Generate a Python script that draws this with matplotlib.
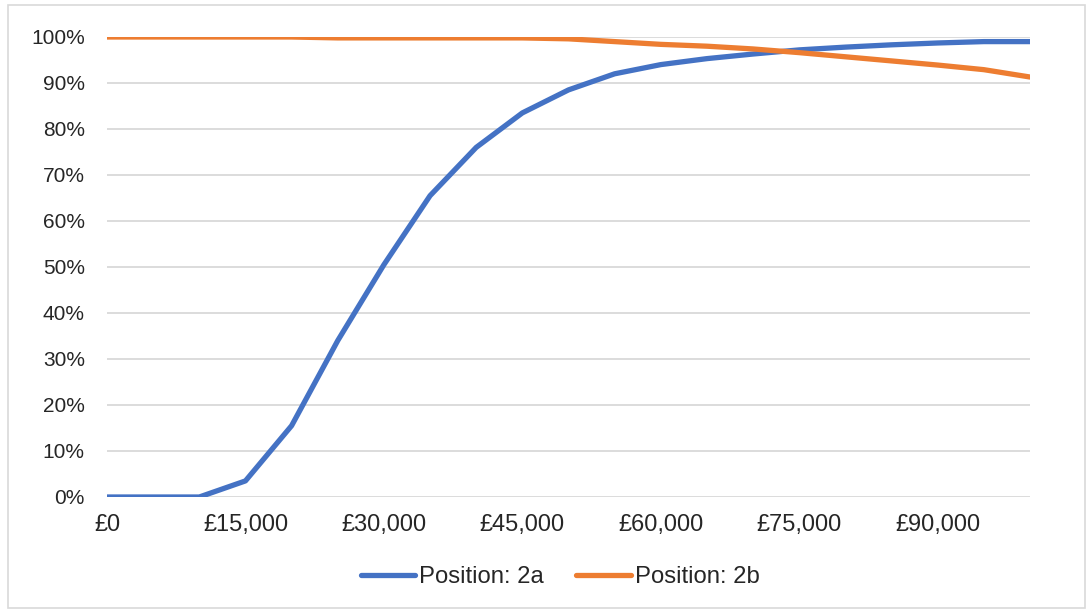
import matplotlib
matplotlib.use("Agg")
import matplotlib.pyplot as plt
from matplotlib.patches import Rectangle
from matplotlib.ticker import FuncFormatter, MultipleLocator

salary = [0, 5000, 10000, 15000, 20000, 25000, 30000, 35000, 40000, 45000, 50000,
          55000, 60000, 65000, 70000, 75000, 80000, 85000, 90000, 95000, 100000]
pos_2a = [0.0, 0.0, 0.0, 3.5, 15.5, 34.0, 50.5, 65.5, 76.0, 83.5, 88.5,
          92.0, 94.0, 95.3, 96.3, 97.2, 97.8, 98.3, 98.7, 99.0, 99.0]
pos_2b = [100.0, 100.0, 100.0, 100.0, 100.0, 99.8, 99.8, 99.8, 99.8, 99.8, 99.6,
          99.0, 98.4, 98.0, 97.4, 96.6, 95.7, 94.8, 93.9, 92.9, 91.3]
series_names = ["Position: 2a", "Position: 2b"]
xtick_values = [0, 15000, 30000, 45000, 60000, 75000, 90000]

plt.rcParams['font.family'] = ['Liberation Sans', 'DejaVu Sans']

fig = plt.figure(figsize=(10.91, 6.12), dpi=100)
ax = fig.add_axes([107/1091, 1 - 497/612, (1030 - 107)/1091, (497 - 37)/612])

ax.plot(salary, [v / 100 for v in pos_2a], color="#4472C4", lw=3.8,
        solid_capstyle="round", solid_joinstyle="round", label=series_names[0], zorder=3)
ax.plot(salary, [v / 100 for v in pos_2b], color="#ED7D31", lw=3.8,
        solid_capstyle="round", solid_joinstyle="round", label=series_names[1], zorder=3)

ax.set_xlim(0, 100000)
ax.set_ylim(0, 1)
ax.yaxis.set_major_locator(MultipleLocator(0.1))
ax.yaxis.set_major_formatter(FuncFormatter(lambda v, p: f"{v*100:.0f}%"))
ax.set_xticks(xtick_values)
ax.set_xticklabels([f"£{v:,}" for v in xtick_values])
ax.grid(axis="y", color="#d9d9d9", lw=1.3, zorder=0)
ax.grid(axis="x", visible=False)
for s in ax.spines.values():
    s.set_visible(False)
ax.tick_params(axis="both", length=0, colors="#262626")
ax.tick_params(axis="y", pad=16, labelsize=15)
ax.tick_params(axis="x", pad=12, labelsize=17)
ax.set_axisbelow(True)

leg = fig.legend(loc="center", bbox_to_anchor=(560/1091, 1 - 577/612), ncol=2, frameon=False,
                 fontsize=17.2, handlelength=2.3, handletextpad=0.15, columnspacing=1.35)
for t in leg.get_texts():
    t.set_color("#262626")

fig.patches.append(Rectangle((8/1091, 4/612), (1085 - 8)/1091, (607 - 4)/612,
                             transform=fig.transFigure, fill=False,
                             edgecolor="#d9d9d9", lw=1.2))

fig.savefig("out.png", dpi=100)
